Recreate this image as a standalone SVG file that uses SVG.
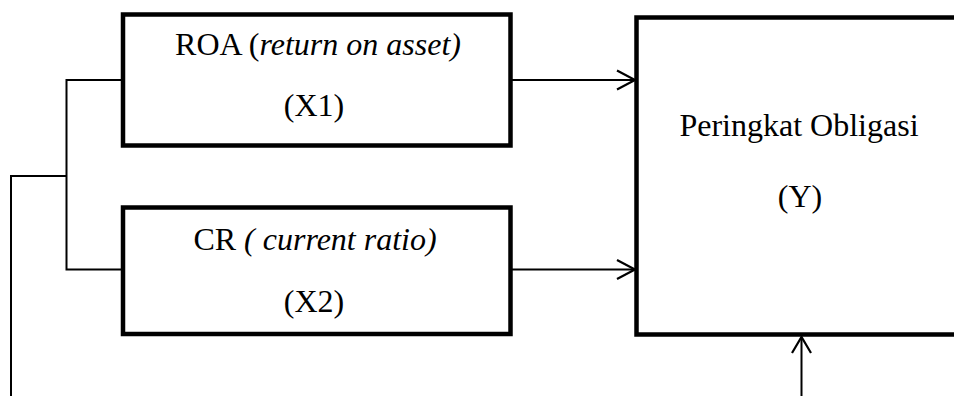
<svg xmlns="http://www.w3.org/2000/svg" width="954" height="396" viewBox="0 0 954 396">
<style>
.box{fill:#fff;stroke:#000;stroke-width:4.5}
.ln{fill:none;stroke:#000;stroke-width:2}
.ah{fill:none;stroke:#000;stroke-width:2.2}
text{font-family:"Liberation Serif","Times New Roman",serif;font-size:32px;fill:#000;text-anchor:middle}
.it{font-style:italic}
</style>
<rect width="954" height="396" fill="#fff"/>
<g id="connectors">
<polyline class="ln" points="11,396 11,176 66.5,176"/>
<polyline class="ln" points="123,80 66.5,80 66.5,269.5 123,269.5"/>
<line class="ln" x1="510.5" y1="80" x2="634" y2="80"/>
<polyline class="ah" points="617,70.5 635,80 617,89.5"/>
<line class="ln" x1="510.5" y1="269.5" x2="634" y2="269.5"/>
<polyline class="ah" points="617,260 635,269.5 617,279"/>
<line class="ln" x1="801.5" y1="396" x2="801.5" y2="338"/>
<polyline class="ah" points="792,353 801.5,337 811,353"/>
</g>
<g id="roa">
<rect class="box" x="123" y="14.5" width="387.5" height="131"/>
<text x="318" y="55">ROA (<tspan class="it">return on asset)</tspan></text>
<text x="314" y="116">(X1)</text>
</g>
<g id="cr">
<rect class="box" x="123" y="207.5" width="387.5" height="126.5"/>
<text x="315" y="249.5">CR <tspan class="it">( current ratio)</tspan></text>
<text x="314" y="311.5">(X2)</text>
</g>
<g id="peringkat">
<rect class="box" x="636.5" y="17.5" width="330" height="317"/>
<text x="799" y="136">Peringkat Obligasi</text>
<text x="800" y="206.5">(Y)</text>
</g>
</svg>
